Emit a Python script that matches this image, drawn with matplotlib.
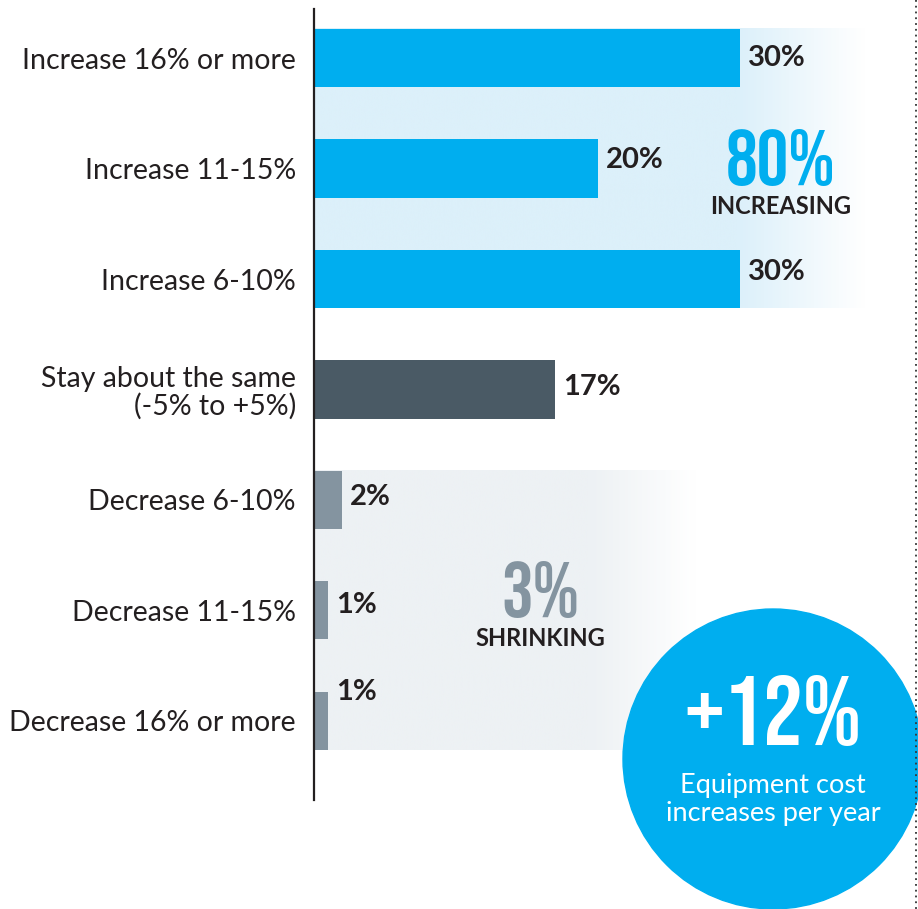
import numpy as np
import matplotlib.pyplot as plt
from matplotlib import font_manager as fm
from matplotlib.patches import Circle
from matplotlib.colors import LinearSegmentedColormap

plt.rcParams['font.family'] = ['Lato', 'DejaVu Sans']

categories = ["Increase 16% or more", "Increase 11-15%", "Increase 6-10%",
              "Stay about the same\n(-5% to +5%)", "Decrease 6-10%",
              "Decrease 11-15%", "Decrease 16% or more"]
shares = [30, 20, 30, 17, 2, 1, 1]
value_labels = ["30%", "20%", "30%", "17%", "2%", "1%", "1%"]
increasing_total = "80%"
shrinking_total = "3%"
yearly_increase = "+12%"

BLUE = "#00aeef"
DARK = "#4a5a65"
GREY = "#8494a0"
INK = "#231f20"
bar_colors = [BLUE, BLUE, BLUE, DARK, GREY, GREY, GREY]
label_nudge = [0, -0.08, -0.06, -0.02, -0.03, -0.05, -0.26]

# condensed face for the big numbers, with a size factor per face
have = {f.name for f in fm.fontManager.ttflist}
narrow, k = 'Oswald', 1.0
for name, scale in [('Bebas Neue', 1.21), ('Fjalla One', 1.12), ('Barlow Condensed', 1.18)]:
    if name in have:
        narrow, k = name, scale
        break

W, H = 918, 909
fig = plt.figure(figsize=(W / 100, H / 100), dpi=100)

# data axes: left spine at x=314px, rows spaced ~110px
px_per_pct = 14.2
row = 110.4
top_px, bot_px, left_px = 9, 800, 314
ax = fig.add_axes([left_px / W, (H - bot_px) / H, (W - left_px) / W, (bot_px - top_px) / H])
xmax = (W - left_px) / px_per_pct
ax.set_xlim(0, xmax)
ax.set_ylim(6 + (bot_px - 721) / row, -(58 - top_px) / row)

y = np.arange(len(categories))
bh = 58 / row


def band(y0, y1, x_solid, x_end, rgb):
    # solid band that fades to white on the right
    cmap = LinearSegmentedColormap.from_list(
        "fade", [(0, rgb), (x_solid / xmax, rgb), (x_end / xmax, "#ffffff"), (1, "#ffffff")])
    grad = np.linspace(0, 1, 512).reshape(1, -1)
    ax.imshow(grad, cmap=cmap, aspect="auto", extent=[0, xmax, y1, y0], zorder=0,
              interpolation="bicubic")


band(-bh / 2, 2 + bh / 2, (740 - left_px) / px_per_pct, (865 - left_px) / px_per_pct, "#dcf0fa")
band(4 - bh / 2, 6 + bh / 2, (590 - left_px) / px_per_pct, (695 - left_px) / px_per_pct, "#edf1f4")

ax.barh(y, shares, height=bh, color=bar_colors, zorder=2)
for yi, v, lab, dy in zip(y, shares, value_labels, label_nudge):
    ax.text(v + 0.55, yi + dy, lab, ha="left", va="center", fontsize=21,
            fontweight="bold", color=INK, zorder=3)

ax.set_yticks(y)
ax.set_yticklabels(categories, fontsize=20.5, color=INK, linespacing=1.05)
ax.tick_params(axis="y", length=0, pad=13)
ax.set_xticks([])
for s in ["top", "right", "bottom"]:
    ax.spines[s].set_visible(False)
ax.spines["left"].set_linewidth(1.6)
ax.spines["left"].set_color(INK)
ax.patch.set_alpha(0)

# overlay in pixel coordinates for the callouts
ov = fig.add_axes([0, 0, 1, 1], zorder=5)
ov.set_xlim(0, W)
ov.set_ylim(H, 0)
ov.axis("off")

big = [narrow, 'Oswald', 'DejaVu Sans']
ov.text(781, 158, increasing_total, ha="center", va="center", fontsize=47 * k,
        fontweight="bold", color=BLUE, family=big)
ov.text(781, 207, "INCREASING", ha="center", va="center", fontsize=17,
        color=INK, fontweight="bold")
ov.text(540, 589, shrinking_total, ha="center", va="center", fontsize=47 * k,
        fontweight="bold", color=GREY, family=big)
ov.text(540, 638, "SHRINKING", ha="center", va="center", fontsize=17,
        color=INK, fontweight="bold")

ov.add_patch(Circle((773, 759), 150, color=BLUE, zorder=1))
ov.text(773, 710, yearly_increase, ha="center", va="center", fontsize=59 * k,
        fontweight="bold", color="white", family=big, zorder=2)
ov.text(773, 799, "Equipment cost\nincreases per year", ha="center", va="center",
        fontsize=19.5, color="white", linespacing=1.15, zorder=2)

ov.plot([916, 916], [0, H], color="#333333", lw=1.3, ls=(0, (1, 2.2)), zorder=3)

fig.savefig("out.png", dpi=100)
